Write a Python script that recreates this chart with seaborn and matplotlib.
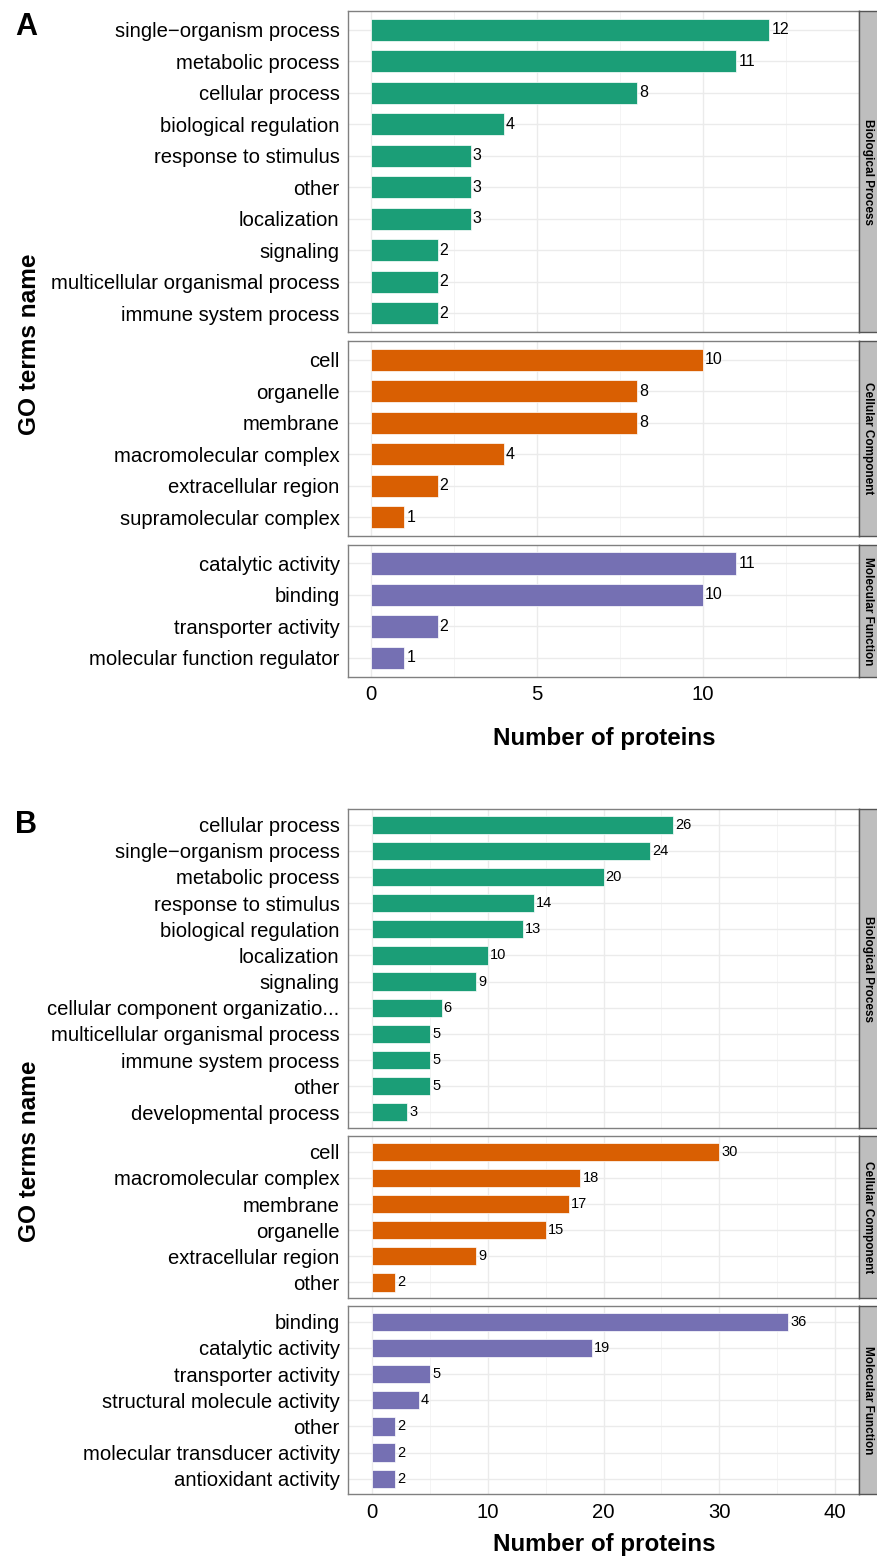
import matplotlib
matplotlib.use("Agg")
import matplotlib.pyplot as plt
import seaborn as sns
import pandas as pd

W, H = 877, 1557

# ---- data, panel A ----
A_BP_TERMS = ["single−organism process", "metabolic process", "cellular process",
              "biological regulation", "response to stimulus", "other", "localization",
              "signaling", "multicellular organismal process", "immune system process"]
A_BP_COUNTS = [12, 11, 8, 4, 3, 3, 3, 2, 2, 2]
A_CC_TERMS = ["cell", "organelle", "membrane", "macromolecular complex",
              "extracellular region", "supramolecular complex"]
A_CC_COUNTS = [10, 8, 8, 4, 2, 1]
A_MF_TERMS = ["catalytic activity", "binding", "transporter activity",
              "molecular function regulator"]
A_MF_COUNTS = [11, 10, 2, 1]

# ---- data, panel B ----
B_BP_TERMS = ["cellular process", "single−organism process", "metabolic process",
              "response to stimulus", "biological regulation", "localization", "signaling",
              "cellular component organizatio...", "multicellular organismal process",
              "immune system process", "other", "developmental process"]
B_BP_COUNTS = [26, 24, 20, 14, 13, 10, 9, 6, 5, 5, 5, 3]
B_CC_TERMS = ["cell", "macromolecular complex", "membrane", "organelle",
              "extracellular region", "other"]
B_CC_COUNTS = [30, 18, 17, 15, 9, 2]
B_MF_TERMS = ["binding", "catalytic activity", "transporter activity",
              "structural molecule activity", "other", "molecular transducer activity",
              "antioxidant activity"]
B_MF_COUNTS = [36, 19, 5, 4, 2, 2, 2]

ONTOLOGIES = ["Biological Process", "Cellular Component", "Molecular Function"]
COLORS = ["#1B9E77", "#D95F02", "#7570B3"]

sns.set_style("white")
plt.rcParams["font.family"] = ["Liberation Sans", "DejaVu Sans"]
plt.rcParams["text.color"] = "black"


def px_axes(fig, x0, y0, x1, y1):
    return fig.add_axes([x0 / W, 1 - y1 / H, (x1 - x0) / W, (y1 - y0) / H])


def draw_facet(ax, terms, counts, color, xlim, major, minor, value_size, show_x):
    df = pd.DataFrame({"term": terms, "count": counts})
    sns.barplot(data=df, x="count", y="term", order=terms, color=color, saturation=1,
                width=0.7, errorbar=None, edgecolor="white", linewidth=0.5, ax=ax)
    ax.bar_label(ax.containers[0], padding=1.5, fontsize=value_size, color="black")
    n = len(terms)
    ax.set_ylim(n - 0.4, -0.6)
    ax.set_xlim(*xlim)
    ax.set_xticks(major)
    ax.set_xticks(minor, minor=True)
    ax.grid(which="major", color="#EBEBEB", lw=1.0)
    ax.grid(which="minor", axis="x", color="#F3F3F3", lw=0.6)
    ax.set_axisbelow(True)
    ax.set_xlabel("")
    ax.set_ylabel("")
    for sp in ax.spines.values():
        sp.set_color("#808080")
        sp.set_linewidth(1.0)
    ax.tick_params(axis="both", which="major", length=4, width=0.8, color="#333333",
                   labelsize=14.6, labelcolor="black", pad=2)
    ax.tick_params(which="minor", length=0)
    if not show_x:
        ax.tick_params(axis="x", which="both", bottom=False, labelbottom=False)


def draw_strip(fig, label, y0, y1):
    s = px_axes(fig, 859, y0, 879, y1)
    s.set_facecolor("#BEBEBE")
    s.set_xticks([])
    s.set_yticks([])
    for sp in s.spines.values():
        sp.set_color("#555555")
        sp.set_linewidth(1.0)
    s.text(0.45, 0.5, label, rotation=-90, ha="center", va="center", fontsize=8.5,
           fontweight="bold", color="black", transform=s.transAxes)


def draw_panel(fig, letter, groups, top, unit, gap, xlim, major, minor, value_size,
               xlabel_y):
    y = top
    for i, (terms, counts) in enumerate(groups):
        h = (len(terms) + 0.2) * unit
        ax = px_axes(fig, 348, y, 859, y + h)
        draw_facet(ax, terms, counts, COLORS[i], xlim, major, minor, value_size,
                   show_x=(i == len(groups) - 1))
        draw_strip(fig, ONTOLOGIES[i], y, y + h)
        y += h + gap
    bottom = y - gap
    fig.text(604 / W, 1 - xlabel_y / H, "Number of proteins", ha="center", va="center",
             fontsize=17.4, fontweight="bold")
    fig.text(30 / W, 1 - ((top + bottom) / 2) / H, "GO terms name", rotation=90,
             ha="center", va="center", fontsize=17.6, fontweight="bold")
    fig.text(26 / W, 1 - (top + 16) / H, letter, ha="center", va="center",
             fontsize=22, fontweight="bold")


fig = plt.figure(figsize=(W / 100, H / 100), dpi=100)

draw_panel(fig, "A",
           [(A_BP_TERMS, A_BP_COUNTS), (A_CC_TERMS, A_CC_COUNTS), (A_MF_TERMS, A_MF_COUNTS)],
           top=11, unit=31.5, gap=8.5, xlim=(-0.7, 14.7), major=[0, 5, 10],
           minor=[2.5, 7.5, 12.5], value_size=11.5, xlabel_y=738)

draw_panel(fig, "B",
           [(B_BP_TERMS, B_BP_COUNTS), (B_CC_TERMS, B_CC_COUNTS), (B_MF_TERMS, B_MF_COUNTS)],
           top=809, unit=26.15, gap=8, xlim=(-2.1, 42.1), major=[0, 10, 20, 30, 40],
           minor=[5, 15, 25, 35], value_size=10.5, xlabel_y=1545)

fig.savefig("out.png", dpi=100)
plt.close(fig)
